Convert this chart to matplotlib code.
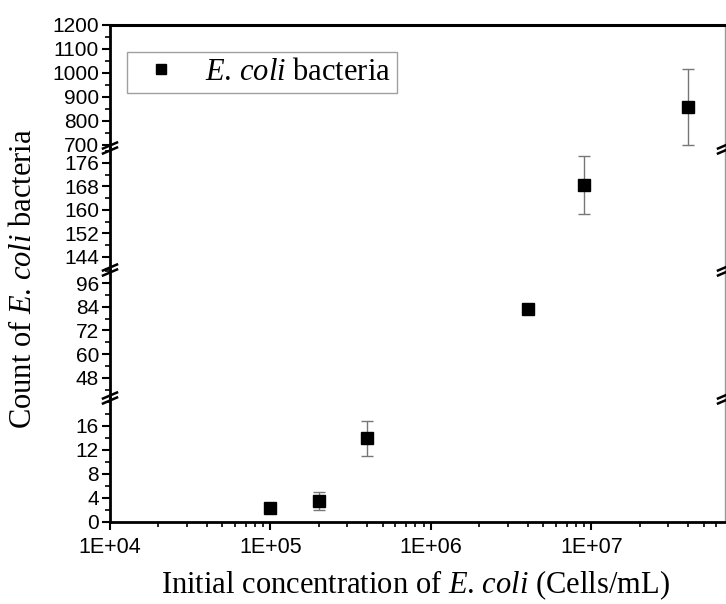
import numpy as np
import matplotlib
matplotlib.use("Agg")
import matplotlib.pyplot as plt
from matplotlib.ticker import MultipleLocator, FuncFormatter, LogLocator
from matplotlib.lines import Line2D

plt.rcParams['font.family'] = 'Liberation Sans'
plt.rcParams['mathtext.fontset'] = 'custom'
plt.rcParams['mathtext.rm'] = 'Liberation Serif'
plt.rcParams['mathtext.it'] = 'Liberation Serif:italic'

# data
conc = [1e5, 2e5, 4e5, 4e6, 9e6, 4e7]
count = [2.3, 3.4, 13.9, 82.8, 168.5, 858]
err = [0.4, 1.5, 3.0, 1.4, 10.0, 158]

# y segments of the broken axis, top to bottom
seg_lims = [(687.5, 1200), (139.6, 181.1), (37.9, 102.7), (0, 20.7)]
seg_ticks = [[700, 800, 900, 1000, 1100, 1200],
             [144, 152, 160, 168, 176],
             [48, 60, 72, 84, 96],
             [0, 4, 8, 12, 16]]
seg_minor = [50, 4, 6, 2]
seg_heights = [123, 122, 128, 124]

W, H = 726, 604
fig = plt.figure(figsize=(W / 100, H / 100), dpi=100)
gs = fig.add_gridspec(4, 1, height_ratios=seg_heights, hspace=0,
                      left=110 / W, right=725 / W, top=1 - 25 / H, bottom=1 - 521.7 / H)

axes = []
for i in range(4):
    ax = fig.add_subplot(gs[i])
    axes.append(ax)
    ax.errorbar(conc, count, yerr=err, fmt='s', color='black', ms=8,
                ecolor='#777777', elinewidth=1, capsize=4, capthick=1)
    ax.set_xscale('log')
    ax.set_xlim(1e4, 6.8e7)
    ax.set_ylim(*seg_lims[i])
    ax.set_yticks(seg_ticks[i])
    ax.yaxis.set_minor_locator(MultipleLocator(seg_minor[i]))
    ax.tick_params(axis='y', which='major', direction='out', length=6, width=1.5,
                   labelsize=15, pad=2)
    ax.tick_params(axis='y', which='minor', direction='out', length=3.5, width=1.2)
    ax.spines['left'].set_linewidth(2)
    ax.spines['right'].set_color('#999999')
    ax.spines['right'].set_linewidth(1)
    ax.spines['top'].set_visible(i == 0)
    ax.spines['top'].set_linewidth(2.2)
    ax.spines['bottom'].set_visible(i == 3)
    ax.spines['bottom'].set_linewidth(2)
    if i < 3:
        ax.tick_params(axis='x', which='both', bottom=False, labelbottom=False)

axb = axes[3]
axb.xaxis.set_major_locator(LogLocator(base=10, numticks=10))
axb.xaxis.set_minor_locator(LogLocator(base=10, subs=np.arange(2, 10), numticks=20))
axb.xaxis.set_major_formatter(FuncFormatter(lambda v, p: "1E+%02d" % int(round(np.log10(v)))))
axb.tick_params(axis='x', which='major', direction='out', length=6, width=1.5,
                labelsize=15.5, pad=5)
axb.tick_params(axis='x', which='minor', direction='out', length=3.5, width=1.2)

fig.text(415 / W, 1 - 585 / H, r"Initial concentration of $E$. $coli$ (Cells/mL)",
         ha='center', va='center', fontsize=22, family='Liberation Serif')
fig.text(24 / W, 1 - 279 / H, r"Count of $E$. $coli$ bacteria",
         rotation=90, va='center', ha='center', fontsize=22, family='Liberation Serif')

# break marks on both spines
breaks_px = [148, 270, 398]
for yb in breaks_px:
    yf = 1 - yb / H
    for xs in (110 / W, 725 / W):
        for off in (-2.5, 2.5):
            fig.add_artist(Line2D([xs - 7 / W, xs + 7 / W],
                                  [yf + (off - 3) / H, yf + (off + 3) / H],
                                  color='black', lw=1.8, transform=fig.transFigure))

handle = Line2D([], [], marker='s', color='black', ls='none', ms=7.5)
axes[0].legend([handle], [r"$E$. $coli$ bacteria"], loc='upper left',
               bbox_to_anchor=(127 / W, 1 - 52 / H), bbox_transform=fig.transFigure,
               borderaxespad=0, frameon=True, fancybox=False, edgecolor='#888888',
               prop={'family': 'Liberation Serif', 'size': 22},
               handlelength=1.8, handletextpad=0.55, borderpad=0.2)

fig.savefig("out.png", dpi=100)
